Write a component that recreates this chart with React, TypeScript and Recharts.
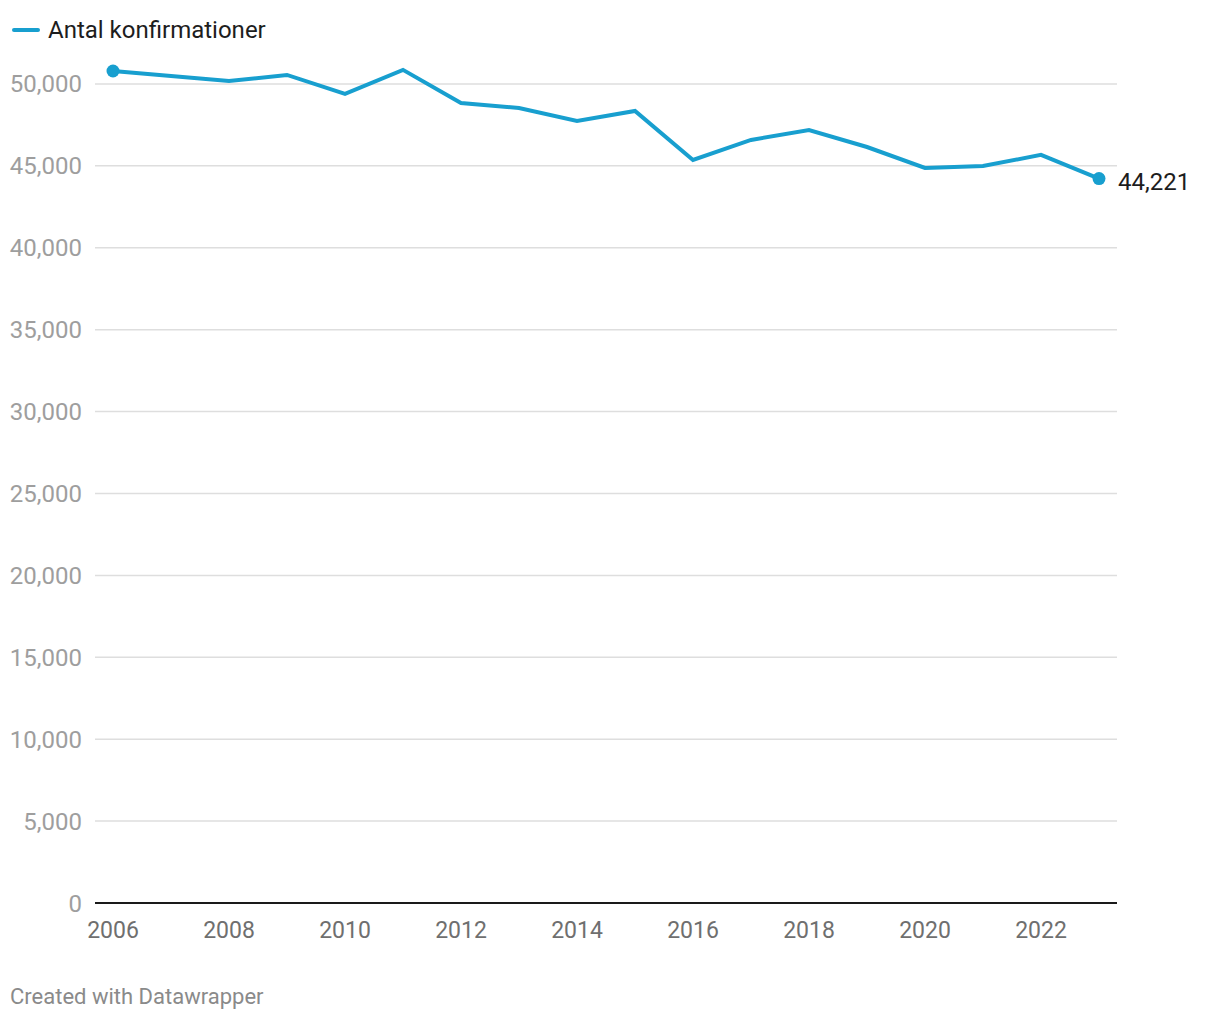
import { LineChart, Line, XAxis, YAxis, ReferenceLine } from "recharts"

const years = [
  2006, 2007, 2008, 2009, 2010, 2011, 2012, 2013, 2014, 2015, 2016, 2017,
  2018, 2019, 2020, 2021, 2022, 2023,
]
const confirmations = [
  50790, 50480, 50180, 50550, 49390, 50860, 48840, 48530, 47740, 48350,
  45360, 46580, 47190, 46150, 44870, 44990, 45670, 44221,
]
const yTicks = [0, 5000, 10000, 15000, 20000, 25000, 30000, 35000, 40000, 45000, 50000]
const xTicks = [2006, 2008, 2010, 2012, 2014, 2016, 2018, 2020, 2022]

const seriesName = "Antal konfirmationer"
const blue = "#189fcf"
const font = "Roboto, 'Noto Sans', sans-serif"

const data = years.map((year, i) => ({ year, value: confirmations[i] }))
const lastIndex = data.length - 1

const fmt = (v: number) => v.toLocaleString("en-US")

function EdgeDot(props: any) {
  const { cx, cy, index } = props
  if (index !== 0 && index !== lastIndex) return <g key={`d${index}`} />
  return <circle key={`d${index}`} cx={cx} cy={cy} r={6.5} fill={blue} />
}

function EndLabel(props: any) {
  const { x, y, index, value } = props
  if (index !== lastIndex) return <g key={`l${index}`} />
  return (
    <text
      key={`l${index}`}
      x={x + 19}
      y={y + 3}
      dy="0.35em"
      fill="#1d1d1d"
      fontSize={24}
      fontFamily={font}
    >
      {fmt(value)}
    </text>
  )
}

export default function App() {
  return (
    <div style={{ position: "relative", width: 1204, height: 1004, fontFamily: font }}>
      {/* legend */}
      <div style={{ position: "absolute", left: 4, top: 10, display: "flex", alignItems: "center", height: 24 }}>
        <div style={{ width: 28, height: 4, borderRadius: 2, background: blue }} />
        <span style={{ marginLeft: 8, fontSize: 24, color: "#1d1d1d" }}>{seriesName}</span>
      </div>

      <div style={{ position: "absolute", left: 0, top: 0 }}>
        <LineChart
          width={1204}
          height={945}
          data={data}
          margin={{ top: 35, right: 95, left: 0, bottom: 0 }}
        >
          {/* grid rows only at the ticks, not at the top edge */}
          {yTicks.map((t) => (
            <ReferenceLine key={t} y={t} stroke="#dedede" strokeWidth={1.5} />
          ))}
          <XAxis
            dataKey="year"
            type="number"
            domain={[2006, 2023]}
            ticks={xTicks}
            padding={{ left: 18, right: 18 }}
            axisLine={{ stroke: "#1a1a1a", strokeWidth: 2 }}
            tickLine={false}
            tickSize={0}
            tickMargin={19}
            height={50}
            tick={{ fill: "#6f6f6f", fontSize: 23, fontFamily: font }}
          />
          <YAxis
            type="number"
            domain={[0, 52500]}
            ticks={yTicks}
            width={87}
            axisLine={false}
            tickLine={false}
            tickSize={0}
            tickMargin={13}
            tickFormatter={fmt}
            tick={{ fill: "#9e9e9e", fontSize: 24, fontFamily: font }}
          />
          <Line
            dataKey="value"
            stroke={blue}
            strokeWidth={4}
            dot={EdgeDot}
            activeDot={false}
            label={EndLabel}
            isAnimationActive={false}
          />
        </LineChart>
      </div>

      {/* footer */}
      <div style={{ position: "absolute", left: 2, top: 977, fontSize: 22, color: "#8a8a8a", lineHeight: "24px" }}>
        Created with Datawrapper
      </div>
    </div>
  )
}
